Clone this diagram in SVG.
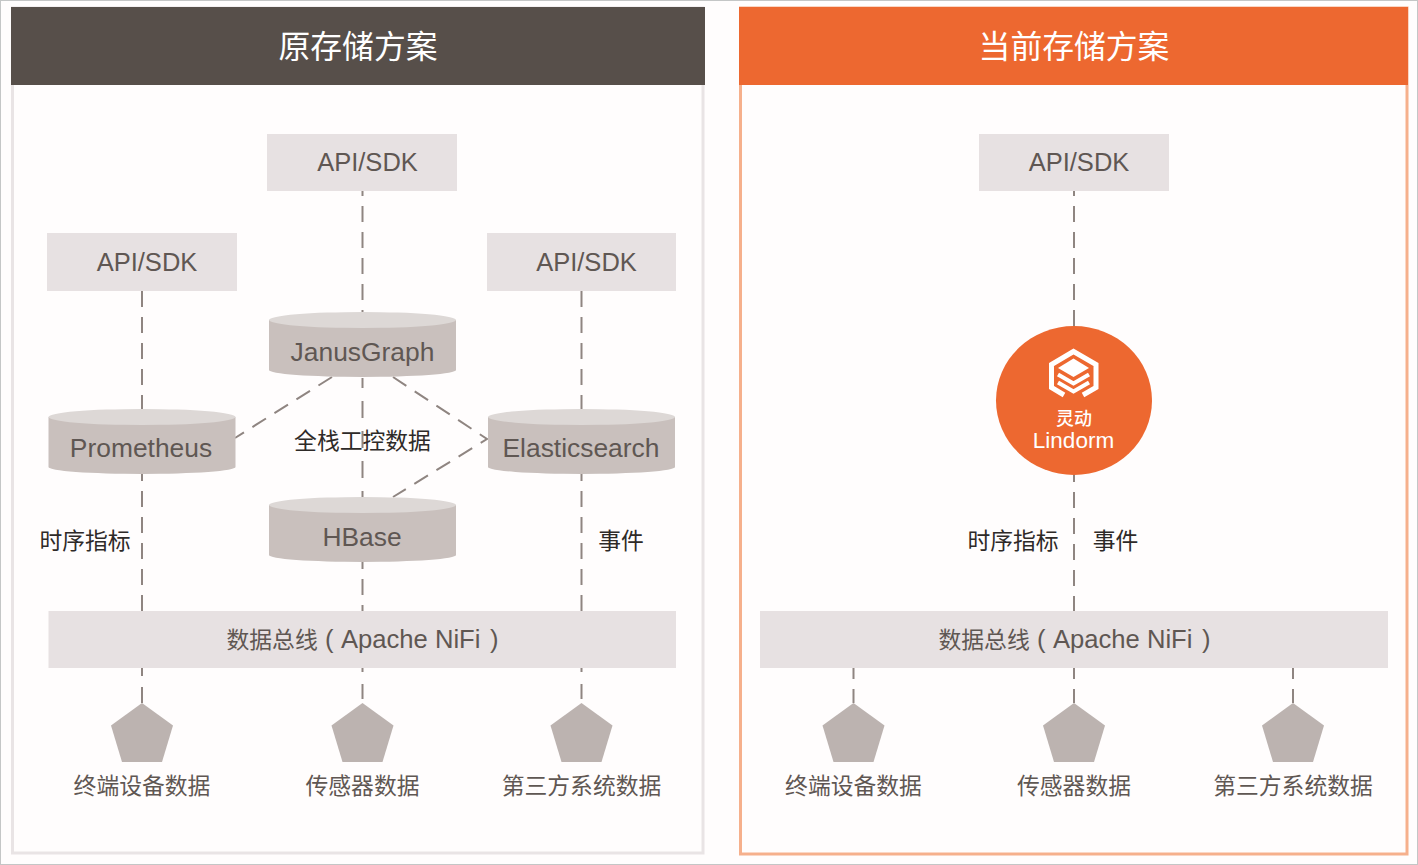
<svg xmlns="http://www.w3.org/2000/svg" width="1418" height="865" viewBox="0 0 1418 865">
<style>
text{font-family:"Liberation Sans","Noto Sans CJK SC",sans-serif;text-anchor:middle}
.t{font-size:22.800px;fill:#5f5753;font-family:"Noto Sans CJK SC","Liberation Sans",sans-serif}
.a{font-size:25.500px;fill:#5f5753}
.e{font-size:26.400px;fill:#5f5753}
.b{font-size:25.600px;fill:#5f5753;text-anchor:start}
.bc{font-size:22.800px;fill:#5f5753;text-anchor:start;font-family:"Noto Sans CJK SC",sans-serif}
.k{font-size:22.800px;fill:#2e2a28;font-family:"Noto Sans CJK SC",sans-serif}
.h{font-size:31.800px;fill:#fff;font-family:"Noto Sans CJK SC",sans-serif}
.box{fill:#e7e1e2}
.side{fill:#c9c0bd}
.top{fill:#ddd8d6}
.pent{fill:#bcb3b0}
.c{stroke:#8f8581;stroke-width:2;fill:none;stroke-dasharray:16 10}
</style>
<defs>
<g id="cyl"><path class="side" d="M-93.500 -24V26A93.500 7 0 0 0 93.500 26V-24Z"/><ellipse class="top" cx="0" cy="-24" rx="93.500" ry="8"/></g>
<polygon id="pe" class="pent" points="0,-29 31,-6.500 20,30 -20,30 -31,-6.500"/>
</defs>
<rect x="0.500" y="0.500" width="1417" height="864" fill="#fffdfd" stroke="#c4c6c6"/>
<rect x="12.500" y="8" width="690.500" height="845" fill="#fffdfd" stroke="#e9e4e5" stroke-width="3"/>
<rect x="740.500" y="8" width="666.500" height="846" fill="#fffdfd" stroke="#f6b08c" stroke-width="3"/>
<g id="connectors">
<path class="c" stroke-dashoffset="11" d="M362.500 191V312"/>
<path class="c" style="stroke-dasharray:17 13" stroke-dashoffset="7" d="M362.500 378V498"/>
<path class="c" stroke-dashoffset="9" d="M362.500 562V611"/>
<path class="c" d="M142 291V409"/>
<path class="c" stroke-dashoffset="9" d="M142 474V611"/>
<path class="c" d="M581.500 291V409"/>
<path class="c" stroke-dashoffset="9" d="M581.500 474V611"/>
<path class="c" d="M332 377L235 438"/>
<path class="c" d="M393 377L487 439L393 497"/>
<path class="c" style="stroke-dasharray:8 11" d="M142 668V687"/><path class="c" style="stroke-dasharray:none" d="M142 687V703"/>
<path class="c" style="stroke-dasharray:15 12" stroke-dashoffset="11" d="M362.500 668V703"/>
<path class="c" style="stroke-dasharray:15 12" stroke-dashoffset="11" d="M581.500 668V703"/>
<path class="c" stroke-dashoffset="11" d="M1074 191V327"/>
<path class="c" stroke-dashoffset="9" d="M1074 475V611"/>
<path class="c" style="stroke-dasharray:11 10 20" d="M853.500 668V703M1074 668V703M1293 668V703"/>
</g>
<g id="header-left"><rect x="11" y="7" width="694" height="78" fill="#574f4a"/><text class="h" x="358" y="57.500">原存储方案</text></g>
<g id="header-right"><rect x="739" y="7" width="669" height="78" fill="#ed6830"/><text class="h" x="1074" y="57.500">当前存储方案</text></g>
<g id="api-top"><rect class="box" x="267" y="134" width="190" height="57"/><text class="a" x="367.500" y="171">API/SDK</text></g>
<g id="api-left"><rect class="box" x="47" y="233" width="190" height="58"/><text class="a" x="147" y="271">API/SDK</text></g>
<g id="api-right"><rect class="box" x="487" y="233" width="189" height="58"/><text class="a" x="586.500" y="271">API/SDK</text></g>
<g id="api-cur"><rect class="box" x="979" y="134" width="190" height="57"/><text class="a" x="1079" y="171">API/SDK</text></g>
<g id="janus"><use href="#cyl" x="362.500" y="344"/><text class="e" x="362.500" y="361">JanusGraph</text></g>
<g id="prom"><use href="#cyl" x="142" y="441"/><text class="e" x="141" y="457">Prometheus</text></g>
<g id="es"><use href="#cyl" x="581.500" y="441"/><text class="e" x="581" y="457">Elasticsearch</text></g>
<g id="hbase"><use href="#cyl" x="362.500" y="529"/><text class="e" x="362" y="546">HBase</text></g>
<text class="k" x="362.500" y="449">全栈工控数据</text>
<text class="k" x="85" y="549">时序指标</text>
<text class="k" x="621" y="549">事件</text>
<text class="k" x="1013" y="549">时序指标</text>
<text class="k" x="1115.500" y="549">事件</text>
<g id="bus-left"><rect class="box" x="48.500" y="611" width="627.500" height="57"/><text class="bc" x="226.500" y="648">数据总线</text><text class="b" x="325" y="648">(</text><text class="b" x="341" y="648">Apache NiFi</text><text class="b" x="490" y="648">)</text></g>
<g id="bus-right"><rect class="box" x="760" y="611" width="628" height="57"/><text class="bc" x="938.500" y="648">数据总线</text><text class="b" x="1037" y="648">(</text><text class="b" x="1053" y="648">Apache NiFi</text><text class="b" x="1202" y="648">)</text></g>
<g id="lindorm">
<ellipse cx="1074" cy="400.500" rx="78" ry="74.500" fill="#ed6830"/>
<path d="M1064 395L1051.500 387.500V364.500L1073.500 351.500L1096 364.500V387.500L1083 395" fill="none" stroke="#fff" stroke-width="5"/>
<path d="M1073.500 358.500L1089 368L1073.500 377L1058 368Z" fill="#fff"/>
<path d="M1058 374.500L1073.500 383.500L1089 374.500M1058 382.500L1073.500 391.500L1089 382.500" fill="none" stroke="#fff" stroke-width="4"/>
<text x="1074" y="425" font-size="18" fill="#fff" font-weight="500" style="font-family:'Noto Sans CJK SC',sans-serif">灵动</text>
<text x="1073.500" y="448" font-size="22.500" fill="#fff">Lindorm</text>
</g>
<g id="src1"><use href="#pe" x="142" y="732"/><text class="t" x="142" y="794">终端设备数据</text></g>
<g id="src2"><use href="#pe" x="362.500" y="732"/><text class="t" x="362.500" y="794">传感器数据</text></g>
<g id="src3"><use href="#pe" x="581.500" y="732"/><text class="t" x="581.500" y="794">第三方系统数据</text></g>
<g id="src4"><use href="#pe" x="853.500" y="732"/><text class="t" x="853.500" y="794">终端设备数据</text></g>
<g id="src5"><use href="#pe" x="1074" y="732"/><text class="t" x="1074" y="794">传感器数据</text></g>
<g id="src6"><use href="#pe" x="1293" y="732"/><text class="t" x="1293" y="794">第三方系统数据</text></g>
</svg>
